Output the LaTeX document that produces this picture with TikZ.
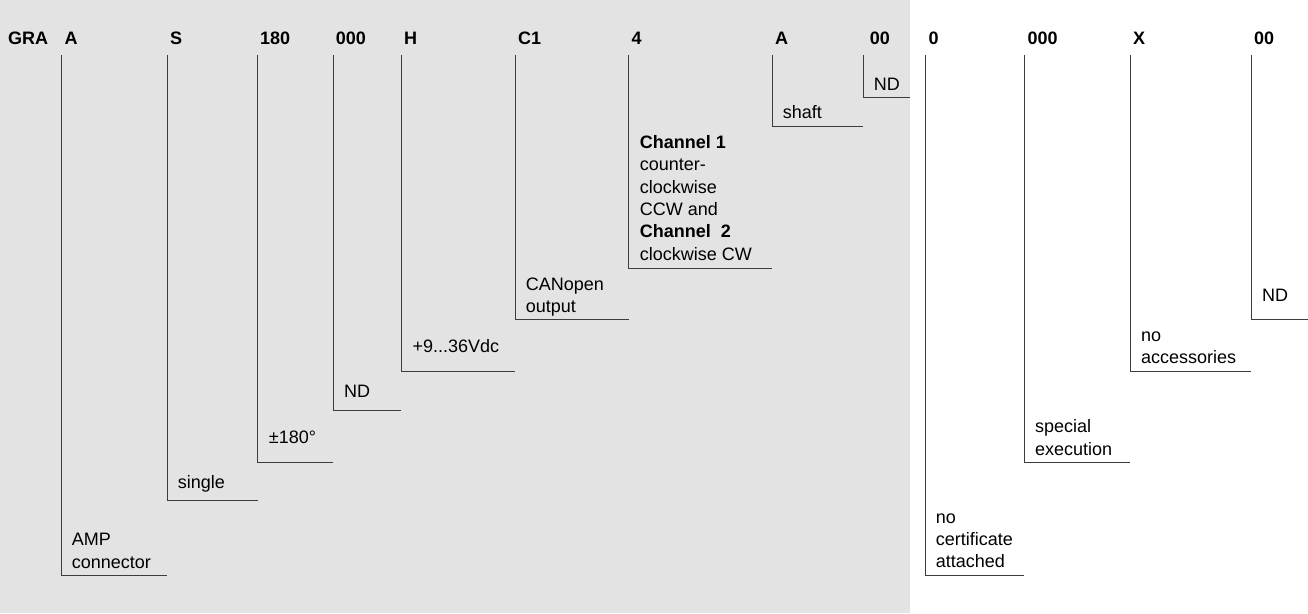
\documentclass[tikz,border=0pt]{standalone}
\usepackage{fontspec}
\setmainfont{Liberation Sans}
\begin{document}
\begin{tikzpicture}[x=1pt,y=-1pt,
  hdr/.style={anchor=base west,inner sep=0pt,font=\fontsize{18}{22.4}\selectfont\bfseries},
  lbl/.style={anchor=base west,inner sep=0pt,font=\fontsize{18}{22.4}\selectfont},
  lead/.style={draw={rgb,255:red,60;green,60;blue,60},line width=1pt}]
\definecolor{panel}{RGB}{227,227,227}
\useasboundingbox (0,0) rectangle (1308,613);
\fill[panel] (0,0) rectangle (910,613);
% headers
\node[hdr] (hGRA) at (8,44.3) {GRA};
\node[hdr] (h1) at (64.3,44.3) {A};
\node[hdr] (h2) at (170,44.3) {S};
\node[hdr] (h3) at (260,44.3) {180};
\node[hdr] (h4) at (335.7,44.3) {000};
\node[hdr] (h5) at (404,44.3) {H};
\node[hdr] (h6) at (518,44.3) {C1};
\node[hdr] (h7) at (631.3,44.3) {4};
\node[hdr] (h8) at (775,44.3) {A};
\node[hdr] (h9) at (869.7,44.3) {00};
\node[hdr] (h10) at (928.3,44.3) {0};
\node[hdr] (h11) at (1027.3,44.3) {000};
\node[hdr] (h12) at (1133,44.3) {X};
\node[hdr] (h13) at (1254,44.3) {00};
% leader coordinates: top, corner, end
\foreach \n/\vx/\hy/\ex in {1/61/575/167, 2/167/500.7/257.7, 3/257.7/462/333.3, 4/333.3/410/401.3,
  5/401.3/371/515, 6/515/319.3/628.7, 7/628.7/268.3/772, 8/772/126.7/863, 9/863/97.3/910,
  10/925/575/1024.3, 11/1024.3/462/1130, 12/1130/371/1251.3, 13/1251.3/319/1308}{
  \coordinate (t\n) at (\vx,55);
  \coordinate (c\n) at (\vx,\hy);
  \coordinate (e\n) at (\ex,\hy);
  \draw[lead] (t\n) -- (c\n) -- (e\n);
}
% labels
\node[lbl] (l1) at (71.7,545.7) {\vtop{\hbox{AMP}\hbox{connector}}};
\node[lbl] (l2) at (177.7,488.3) {single};
\node[lbl] (l3) at (268.7,443.3) {±180°};
\node[lbl] (l4) at (344,397.7) {ND};
\node[lbl] (l5) at (412.3,352.7) {+9...36Vdc};
\node[lbl] (l6) at (525.7,290) {\vtop{\hbox{CANopen}\hbox{output}}};
\node[lbl] (l7) at (639.7,148.3) {\vtop{\hbox{\bfseries Channel 1}\hbox{counter-}\hbox{clockwise}\hbox{CCW and}\hbox{\bfseries Channel\ \ 2}\hbox{clockwise CW}}};
\node[lbl] (l8) at (782.7,118.3) {shaft};
\node[lbl] (l9) at (873.7,90) {ND};
\node[lbl] (l10) at (935.7,523) {\vtop{\hbox{no}\hbox{certificate}\hbox{attached}}};
\node[lbl] (l11) at (1035,432.7) {\vtop{\hbox{special}\hbox{execution}}};
\node[lbl] (l12) at (1141,341.3) {\vtop{\hbox{no}\hbox{accessories}}};
\node[lbl] (l13) at (1262,301) {ND};
\end{tikzpicture}
\end{document}
